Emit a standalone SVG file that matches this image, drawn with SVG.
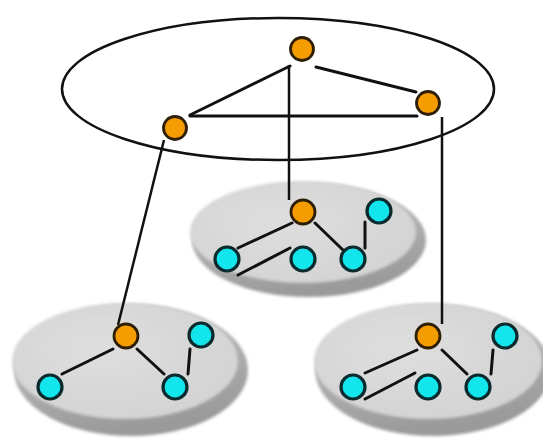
<svg xmlns="http://www.w3.org/2000/svg" width="543" height="443" viewBox="0 0 543 443">
<defs>
<linearGradient id="rim" x1="0" y1="0" x2="0.3" y2="1">
<stop offset="0" stop-color="#c8c8c8"/>
<stop offset="1" stop-color="#9a9a9a"/>
</linearGradient>
<radialGradient id="top" cx="0.4" cy="0.4" r="0.7">
<stop offset="0" stop-color="#dedede"/>
<stop offset="1" stop-color="#d2d2d2"/>
</radialGradient>
<filter id="soft" x="-10%" y="-10%" width="120%" height="120%"><feGaussianBlur stdDeviation="1.5"/></filter>
</defs>
<style>
.e{stroke:#111;stroke-width:3;fill:none;stroke-linecap:round}
.c{stroke:#111;stroke-width:2.5;fill:none}
.o{fill:#f59c00;stroke:#2e1e06;stroke-width:2.8}
.b{fill:#12e6ec;stroke:#0b2a2e;stroke-width:3.2}
.rim{fill:url(#rim);filter:url(#soft)}
.top{fill:url(#top);filter:url(#soft)}
</style>
<rect width="543" height="443" fill="#fff"/>

<g id="disc-middle">
<ellipse class="rim" cx="309" cy="240" rx="117" ry="57"/>
<ellipse class="top" cx="303" cy="232" rx="113" ry="51"/>
</g>
<g id="disc-left">
<ellipse class="rim" cx="131" cy="370" rx="117" ry="66"/>
<ellipse class="top" cx="125" cy="361" rx="113" ry="58"/>
</g>
<g id="disc-right">
<ellipse class="rim" cx="433" cy="370" rx="118" ry="66"/>
<ellipse class="top" cx="428" cy="361" rx="114" ry="58"/>
</g>

<g id="top-ring">
<ellipse cx="278" cy="89" rx="216" ry="71" fill="none" stroke="#111" stroke-width="2.5"/>
</g>

<g id="connectors">
<line class="e" x1="290" y1="66" x2="190" y2="115"/>
<line class="e" x1="316" y1="67" x2="416" y2="92"/>
<line class="e" x1="190" y1="116" x2="417" y2="116"/>
<line class="c" x1="289" y1="65" x2="289" y2="200" stroke-width="2"/>
<line class="c" x1="442" y1="117" x2="442" y2="324"/>
<line class="c" x1="164" y1="140" x2="118" y2="325"/>

<line class="e" x1="292" y1="223" x2="238" y2="248"/>
<line class="e" x1="290" y1="248" x2="238" y2="275"/>
<line class="e" x1="315" y1="223" x2="343" y2="250"/>
<line class="e" x1="365" y1="222" x2="365" y2="248"/>

<line class="e" x1="113" y1="349" x2="62" y2="374"/>
<line class="e" x1="137" y1="349" x2="164" y2="374"/>
<line class="e" x1="190" y1="349" x2="188" y2="374"/>

<line class="e" x1="417" y1="350" x2="365" y2="373"/>
<line class="e" x1="415" y1="373" x2="365" y2="399"/>
<line class="e" x1="442" y1="350" x2="467" y2="374"/>
<line class="e" x1="493" y1="350" x2="491" y2="374"/>
</g>

<g id="n-top"><circle class="o" cx="302" cy="49" r="11.5"/></g>
<g id="n-right"><circle class="o" cx="428" cy="103" r="11.5"/></g>
<g id="n-left"><circle class="o" cx="175" cy="128" r="11.5"/></g>

<g id="m-hub"><circle class="o" cx="303" cy="212" r="12"/></g>
<g id="m-tr"><circle class="b" cx="379" cy="211" r="12"/></g>
<g id="m-bl"><circle class="b" cx="227" cy="259" r="12"/></g>
<g id="m-bm"><circle class="b" cx="303" cy="259" r="12"/></g>
<g id="m-br"><circle class="b" cx="353" cy="259" r="12"/></g>

<g id="l-hub"><circle class="o" cx="126" cy="336" r="12"/></g>
<g id="l-tr"><circle class="b" cx="201" cy="335" r="12"/></g>
<g id="l-bl"><circle class="b" cx="50" cy="387" r="12"/></g>
<g id="l-br"><circle class="b" cx="175" cy="387" r="12"/></g>

<g id="r-hub"><circle class="o" cx="428" cy="336" r="12"/></g>
<g id="r-tr"><circle class="b" cx="505" cy="336" r="12"/></g>
<g id="r-bl"><circle class="b" cx="353" cy="387" r="12"/></g>
<g id="r-bm"><circle class="b" cx="428" cy="387" r="12"/></g>
<g id="r-br"><circle class="b" cx="478" cy="387" r="12"/></g>
</svg>
